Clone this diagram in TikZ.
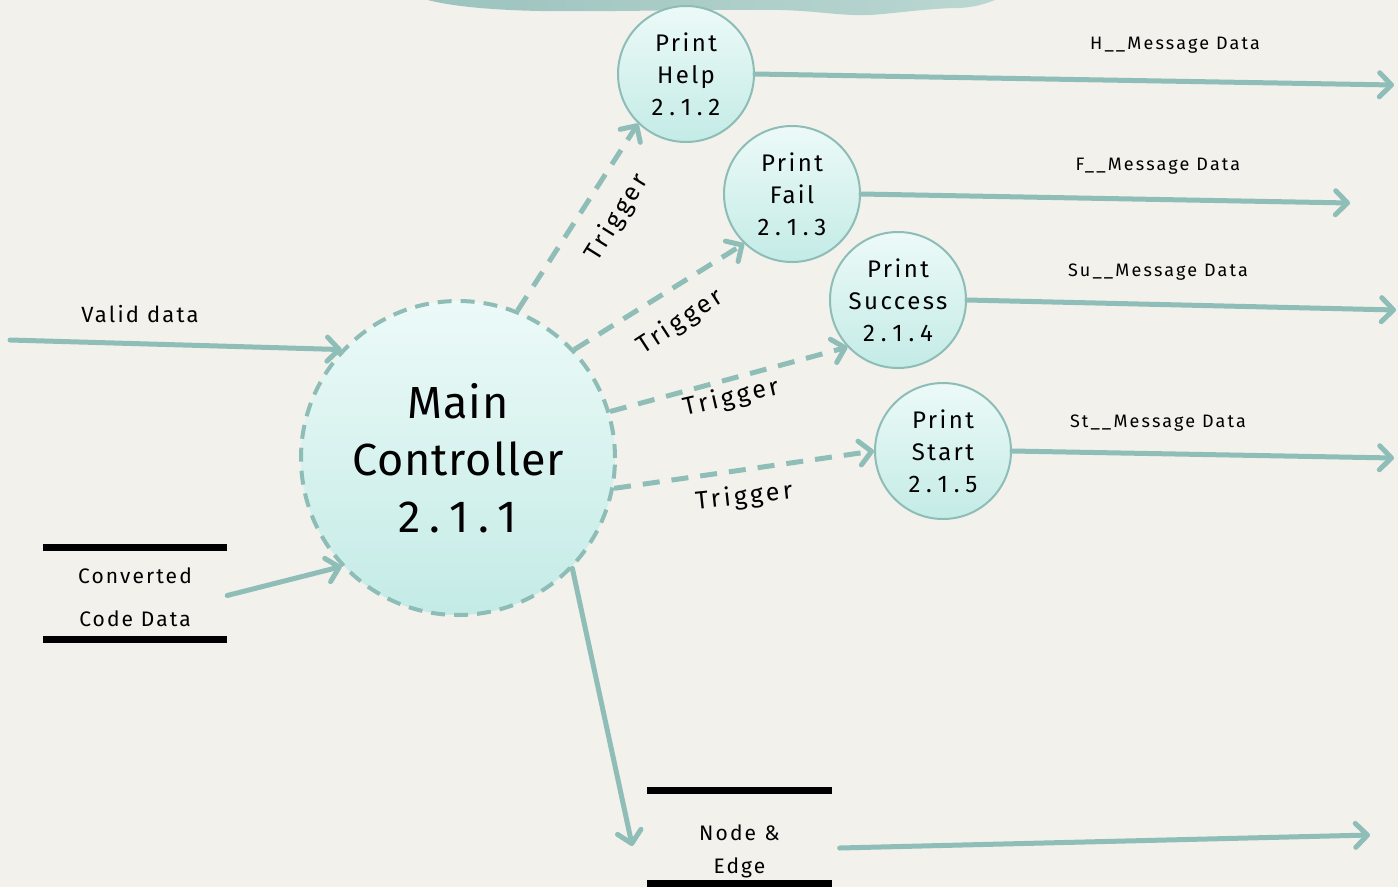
\documentclass[tikz,border=0pt]{standalone}
\usepackage{fontspec}
\setmainfont{Fira Sans}[LetterSpace=10]
\newfontfamily\tightfont{Fira Sans}[LetterSpace=2]
\usetikzlibrary{arrows.meta,calc}
\definecolor{paper}{HTML}{F2F1EC}
\definecolor{flow}{HTML}{8FBDB7}
\definecolor{rim}{HTML}{8DBDB6}
\definecolor{fillhi}{HTML}{ECFAF8}
\definecolor{filllo}{HTML}{C4EBE6}
\definecolor{bandl}{HTML}{9CC3BE}
\definecolor{bandr}{HTML}{BBD7D2}
% spaced-out version numbers
\newlength{\vergap}
\setlength{\vergap}{0.25em}
\newcommand{\ver}[3]{#1\hspace{\vergap}.\hspace{\vergap}#2\hspace{\vergap}.\hspace{\vergap}#3}
\tikzset{
  proc/.style={circle, draw=rim, line width=2pt, top color=fillhi, bottom color=filllo,
    minimum size=136pt, inner sep=0pt, align=center, font=\fontsize{24}{32}\selectfont\setlength{\vergap}{0.24em}},
  mainproc/.style={proc, minimum size=314pt, line width=4pt, dash pattern=on 14pt off 9pt,
    font=\tightfont\fontsize{45}{57}\selectfont\setlength{\vergap}{0.2em}},
  flowline/.style={draw=flow, line width=5pt, line cap=round,
    -{Straight Barb[length=12pt,width=24pt,line cap=round,round]}},
  trig/.style={flowline, dash pattern=on 17pt off 12pt, line cap=butt},
  store/.style={minimum width=184pt, minimum height=91pt, inner sep=0pt, align=center,
    font=\fontsize{21}{33}\selectfont},
  storeline/.style={line width=7pt, black},
  msg/.style={font=\fontsize{18}{22}\selectfont\addfontfeature{LetterSpace=12}},
  trlabel/.style={font=\fontsize{25}{30}\selectfont\addfontfeature{LetterSpace=13}},
}
\begin{document}
\begin{tikzpicture}[x=1pt,y=-1pt]
% paper
\fill[paper] (0,0) rectangle (1398,887);
\useasboundingbox (0,0) rectangle (1398,887);
% teal band along the top edge
\shade[left color=bandl, right color=bandr]
  (428,0) .. controls (450,6) and (490,10) .. (540,11)
  .. controls (620,12) and (700,9) .. (780,10)
  .. controls (820,11) and (840,16) .. (870,15)
  .. controls (900,13) and (930,8) .. (960,8)
  .. controls (975,7) and (985,4) .. (995,0) -- cycle;

% processes
\node[mainproc] (main) at (458,458) {Main\\Controller\\\ver211};
\node[proc] (help) at (686,74) {Print\\Help\\\ver212};
\node[proc] (fail) at (792,194) {Print\\Fail\\\ver213};
\node[proc] (succ) at (898,300) {Print\\Success\\\ver214};
\node[proc] (start) at (943,451) {Print\\Start\\\ver215};

% data stores
\node[store] (conv) at (135,593.5) {\rule{0pt}{24pt}Converted\\[10pt]Code Data};
\draw[storeline] (conv.north west) -- (conv.north east);
\draw[storeline] (conv.south west) -- (conv.south east);
\node[store, minimum height=92pt] (ne) at (739.5,837) {\rule{0pt}{44pt}Node\hspace{0.4em}\&\\Edge};
\draw[storeline] (ne.north west) -- (ne.north east);
\draw[storeline] (ne.south west) -- (ne.south east);

% free ends
\coordinate (validin) at (10,340);
\coordinate (hout) at (1394,85);
\coordinate (fout) at (1350,203);
\coordinate (suout) at (1396,310);
\coordinate (stout) at (1394,458);
\coordinate (neout) at (1370,835);
\coordinate (nein) at ($(ne.west)+(-15,9)$);

% inputs to the controller
\draw[flowline] (validin) -- (main.137);
\node[font=\fontsize{22}{26}\selectfont] (validlbl) at (140,314) {Valid data};
\draw[flowline] (conv.east) ++(0,2) -- (main.223);

% controller to the node & edge store
\draw[flowline] (main.316) -- (nein);
\draw[flowline] ($(ne.east)+(8,11)$) -- (neout);

% triggers
\draw[trig] (main.68) -- (help.226);
\draw[trig] (main.43) -- (fail.226);
\draw[trig] (main.17) -- (succ.223);
\draw[trig] (main.349) -- (start.180);
\node[trlabel, rotate=58] (t1) at (617,218) {Trigger};
\node[trlabel, rotate=33] (t2) at (680,322) {Trigger};
\node[trlabel, rotate=13] (t3) at (731,398) {Trigger};
\node[trlabel, rotate=6] (t4) at (744,497) {Trigger};

% message outputs
\draw[flowline] (help.east) -- (hout);
\draw[flowline] (fail.east) -- (fout);
\draw[flowline] (succ.east) -- (suout);
\draw[flowline] (start.east) -- (stout);
\node[msg] (hl) at (1175,45) {H\_\_Message Data};
\node[msg] (fl) at (1158,166) {F\_\_Message Data};
\node[msg] (sul) at (1158,272) {Su\_\_Message Data};
\node[msg] (stl) at (1158,423) {St\_\_Message Data};
\end{tikzpicture}
\end{document}
